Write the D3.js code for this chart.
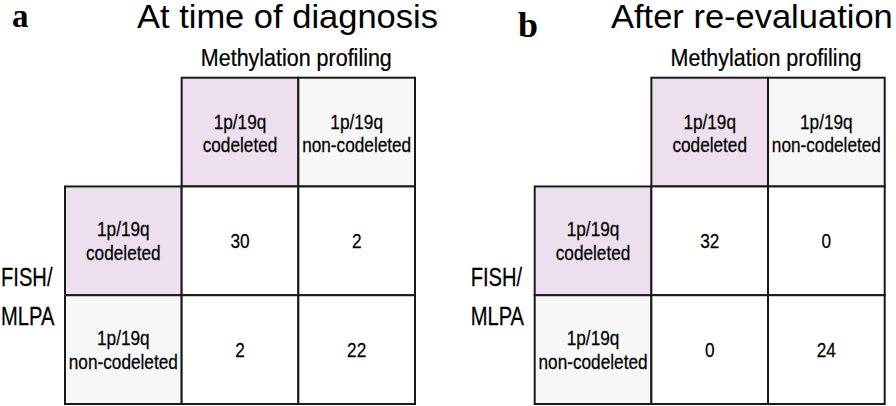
<!DOCTYPE html>
<html>
<head>
<meta charset="utf-8">
<script src="https://cdn.jsdelivr.net/npm/d3@7"></script>
<style>
  html, body { margin: 0; padding: 0; background: #fff; }
  svg { display: block; }
</style>
</head>
<body>
<svg id="chart" width="896" height="406"></svg>
<script>
// ---- data ----
const panelLetters = ["a", "b"];
const panelTitles = ["At time of diagnosis", "After re-evaluation"];
const categories = ["codeleted", "non-codeleted"];
const categoryPrefix = "1p/19q";
const columnAxisLabel = "Methylation profiling";
const rowAxisLabel = ["FISH/", "MLPA"];
const diagnosisCounts = [[30, 2], [2, 22]];
const reevaluationCounts = [[32, 0], [0, 24]];
const panelCounts = [diagnosisCounts, reevaluationCounts];

// ---- layout / style ----
const panelLeft = [65, 534.7];
const gridWidth = 350;
const gridTop = 77.7, gridBottom = 404;
const pink = "#eedfee", grey = "#f7f7f7", lineColor = "#1a1a1a", ink = "#000";
const sans = "'Liberation Sans', Arial, sans-serif";
const serif = "'Liberation Serif', 'Times New Roman', serif";
const letterPos = [{x: 12, y: 27, size: 33}, {x: 518, y: 37, size: 36}];
const titlePos = [{x: 137, y: 28}, {x: 611, y: 28}];

const svg = d3.select("#chart");

// condensed text helper: scaled around its anchor point
function addText(g, x, y, str, o) {
  return g.append("text")
    .attr("transform", `translate(${x},${y}) scale(${o.sx || 1},${o.sy || 1})`)
    .attr("text-anchor", o.anchor || "start")
    .attr("font-family", o.family || sans)
    .attr("font-weight", o.weight || "normal")
    .attr("font-size", o.size)
    .attr("fill", ink)
    .attr("stroke", o.heavy ? ink : "none")
    .attr("stroke-width", o.heavy ? 0.25 : 0)
    .text(str);
}

panelLetters.forEach((letter, p) => {
  const g = svg.append("g");
  const x = d3.scaleBand().domain(["label", ...categories])
    .range([panelLeft[p], panelLeft[p] + gridWidth]);
  const y = d3.scaleBand().domain(["label", ...categories])
    .range([gridTop, gridBottom]);
  const counts = panelCounts[p];
  const cellFont = {size: 21, sx: 0.82, anchor: "middle", heavy: true};

  // panel letter
  addText(g, letterPos[p].x, letterPos[p].y, letter,
    {size: letterPos[p].size, family: serif, weight: "bold"});

  // title
  addText(g, titlePos[p].x, titlePos[p].y, panelTitles[p], {size: 34.5, sy: 0.96});

  // column axis label
  const colCenter = (x(categories[0]) + x(categories[1]) + x.bandwidth()) / 2;
  addText(g, colCenter - 2, 66, columnAxisLabel,
    {size: 24, sx: 0.895, anchor: "middle", heavy: true});

  // row axis label
  rowAxisLabel.forEach((line, i) =>
    addText(g, panelLeft[p] - 64, 286 + i * 39, line, {size: 26, sx: 0.775, heavy: true}));

  const headerFill = (i) => i === 0 ? pink : grey;

  // header cells (columns)
  categories.forEach((c, i) => {
    g.append("rect").attr("x", x(c)).attr("y", y("label"))
      .attr("width", x.bandwidth()).attr("height", y.bandwidth())
      .attr("fill", headerFill(i)).attr("stroke", lineColor).attr("stroke-width", 2);
    const cx = x(c) + x.bandwidth() / 2, cy = y("label") + y.bandwidth() / 2;
    addText(g, cx, cy - 3.5, categoryPrefix, cellFont);
    addText(g, cx, cy + 20, c, cellFont);
  });

  // row header cells
  categories.forEach((r, i) => {
    g.append("rect").attr("x", x("label")).attr("y", y(r))
      .attr("width", x.bandwidth()).attr("height", y.bandwidth())
      .attr("fill", headerFill(i)).attr("stroke", lineColor).attr("stroke-width", 2);
    const cx = x("label") + x.bandwidth() / 2, cy = y(r) + y.bandwidth() / 2;
    addText(g, cx, cy - 4.5, categoryPrefix, cellFont);
    addText(g, cx, cy + 19.5, r, cellFont);
  });

  // data cells
  const cells = [];
  categories.forEach((r, i) => categories.forEach((c, j) =>
    cells.push({row: r, col: c, value: counts[i][j]})));
  g.selectAll("rect.cell").data(cells).join("rect").attr("class", "cell")
    .attr("x", d => x(d.col)).attr("y", d => y(d.row))
    .attr("width", x.bandwidth()).attr("height", y.bandwidth())
    .attr("fill", "#fff").attr("stroke", lineColor).attr("stroke-width", 2);
  cells.forEach(d =>
    addText(g, x(d.col) + x.bandwidth() / 2, y(d.row) + y.bandwidth() / 2 + 7,
      d.value, cellFont));
});
</script>
</body>
</html>
